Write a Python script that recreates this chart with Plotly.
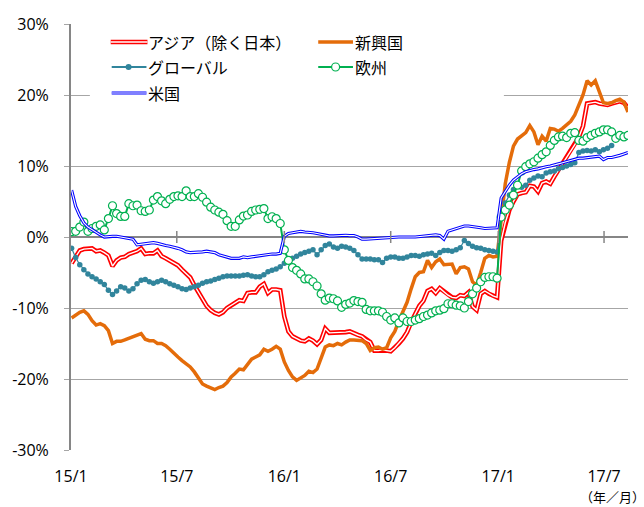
import plotly.graph_objects as go
import pandas as pd

# ---------------- data (weekly, %) ----------------
START = "2015-01-02"
ASIA = [-3.7, -2.8, -1.9, -1.7, -1.6, -1.6, -2.0, -1.9, -2.2, -2.6, -4.1, -3.3, -2.9, -2.8, -2.4, -2.2, -2.0, -1.6,
        -2.4, -2.3, -2.3, -1.9, -2.7, -3.0, -3.3, -3.6, -4.0, -4.6, -5.2, -5.7, -6.8, -7.8, -8.8, -9.7, -10.3,
        -10.7, -10.9, -10.6, -10.0, -9.6, -9.3, -8.9, -9.0, -7.9, -7.8, -7.8, -7.0, -6.6, -7.9, -7.4, -7.4, -7.5,
        -11.2, -13.3, -14.0, -14.3, -14.6, -14.7, -14.3, -14.6, -15.1, -14.5, -12.9, -13.5, -13.5, -13.4, -13.5,
        -13.4, -13.3,
        -13.6, -13.8, -14.0, -14.5, -14.8, -16.0, -16.0, -15.9, -16.0, -16.1, -15.6, -15.0, -14.3, -13.4, -12.0,
        -10.8, -9.7, -9.0, -7.6, -7.3, -7.9, -7.2, -7.7, -8.2, -8.5, -8.6, -8.2, -8.3, -7.8, -9.8, -10.3, -8.0,
        -7.6, -8.0,
        -8.3, -8.5, -0.5, 2.0, 3.8, 5.0, 6.0, 6.2, 6.3, 7.2, 7.1, 6.4, 7.6, 7.8, 7.5, 8.5, 9.4, 10.4, 11.3, 12.2,
        13.0, 14.1, 15.6, 18.8, 18.9, 19.0, 18.8, 18.7, 18.6, 18.8, 19.0, 19.1, 18.9, 18.2]
EMERGING = [-11.4, -11.0, -10.6, -10.4, -10.9, -11.8, -12.4, -12.2, -12.5, -13.2, -15.0, -14.7, -14.7, -14.5, -14.3,
            -14.1, -13.9, -13.6, -14.4, -14.6, -14.6, -15.0, -15.0, -15.3, -15.8, -16.4, -16.9, -17.4, -17.8, -18.3,
            -19.0, -19.8, -20.7, -21.0, -21.2,
            -21.5, -21.2, -21.0, -20.5, -19.7, -19.2, -18.6, -18.7, -18.0, -17.2, -16.9, -16.6, -15.8, -16.1, -15.8,
            -15.4, -15.8, -17.6, -18.8, -19.7, -20.2, -19.9, -19.5, -18.9, -19.1, -18.6, -17.0, -15.5, -15.2, -15.3,
            -15.0, -15.2, -14.8, -14.5,
            -14.5, -14.5, -14.6, -15.0, -16.0, -15.6, -15.5, -15.8, -15.6, -14.2, -13.3, -11.8, -10.5, -9.2, -7.3,
            -5.6, -5.0, -4.9, -3.3, -4.3, -3.5, -3.1, -3.9, -3.8, -3.8, -5.2, -4.3, -4.2, -4.5, -6.3, -6.8, -5.0,
            -3.0, -2.6,
            -2.8, -2.7, 3.0, 7.5, 10.5, 12.8, 13.8, 14.3, 14.7, 15.7, 14.8, 13.0, 14.2, 13.5, 15.3, 15.2, 14.9, 15.3,
            15.8, 16.3, 17.2, 18.6, 20.0, 22.0, 21.4, 22.0, 20.3, 18.9, 18.8, 18.9, 19.2, 19.4, 19.0, 17.6]
GLOBAL = [-1.6, -2.9, -3.9, -4.6, -5.2, -5.6, -5.9, -6.3, -6.7, -7.5, -8.1, -7.6, -7.0, -7.2, -7.6, -7.3, -6.6, -6.1,
          -6.0, -6.3, -6.5, -6.3, -6.1, -6.3, -6.6, -6.8, -7.0, -7.3, -7.4, -7.2, -7.0, -6.8, -6.5, -6.3, -6.2,
          -6.0, -5.8, -5.6, -5.5, -5.5, -5.5, -5.5, -5.4, -5.3, -5.5, -5.6, -5.6, -5.3, -4.9, -4.7, -4.5, -4.2,
          -3.7, -3.3, -3.0, -2.7, -2.4, -2.2, -2.0, -1.8, -2.5, -1.8, -1.2, -1.0, -1.4, -1.6, -1.3, -1.4, -1.6,
          -1.9, -2.5, -3.1, -3.1, -3.1, -3.2, -3.2, -3.6, -3.0, -2.8, -2.8, -3.0, -3.0, -2.8, -2.6, -2.6, -2.7,
          -2.5, -2.4, -2.3, -2.6, -2.2, -1.9, -1.9, -2.0, -1.8, -1.5, -0.5, -0.9, -1.3, -1.5, -1.6, -1.8, -1.9,
          -2.0, -2.1, 3.0, 4.8, 5.9, 6.7, 7.2, 7.0, 7.3, 8.0, 8.3, 8.6, 8.5, 9.0, 9.2, 9.3, 9.6, 9.8, 10.0, 10.2,
          10.45, 11.9, 12.1, 12.2, 12.1, 12.3, 12.0, 12.3, 12.5, 12.9]
EUROPE = [0.75, 0.8, 1.4, 2.1, 0.8, 1.2, 1.5, 1.7, 1.0, 2.6, 4.4, 3.3, 2.9, 2.9, 4.7, 4.4, 4.5, 3.7, 3.6, 3.8, 5.2,
          5.7, 5.1, 4.7, 5.3, 5.7, 5.8, 5.7, 6.5, 5.7, 5.7, 6.1, 5.6, 4.9, 4.2,
          3.8, 3.5, 3.2, 2.3, 1.5, 1.5, 2.4, 2.95, 3.1, 3.6, 3.8, 3.9, 4.0, 2.6, 2.85, 2.6, 1.9, -1.8, -3.3, -4.3,
          -4.7, -5.2, -5.9, -5.9, -6.3, -6.9, -8.0, -8.9, -8.6, -8.7, -9.0, -9.9, -9.5, -9.3,
          -8.95, -9.1, -9.2, -10.2, -10.4, -10.4, -10.4, -10.6, -11.2, -11.7, -11.4, -12.1, -11.4, -11.9, -11.9,
          -11.7, -11.5, -11.2, -11.0, -10.7, -10.4, -10.3, -10.1, -9.4, -9.4, -9.6, -9.7, -10.0, -9.1, -8.0, -7.2,
          -6.3, -5.7, -5.6,
          -5.6, -5.8, 2.8, 3.8, 4.5, 5.9, 7.3, 9.3, 9.9, 10.3, 10.6, 11.1, 11.6, 12.0, 12.9, 13.6, 14.1, 14.2, 14.0,
          14.6, 14.7, 13.6, 13.5, 14.0, 14.3, 14.6, 14.8, 15.1, 15.1, 14.8, 13.9, 14.3, 14.1, 14.3]
US = [6.6, 4.3, 3.0, 2.0, 1.4, 1.0, 0.6, 0.3, 0.0, 0.1, 0.1, 0.1, 0.0, -0.1, -0.2, -0.3, -1.1, -1.0, -0.9, -0.9,
      -0.8, -0.9, -1.1, -1.2, -1.3, -1.4, -1.6, -1.8, -2.1, -2.2, -2.2, -2.1, -2.1, -2.0, -2.1,
      -2.2, -2.5, -2.7, -2.9, -3.0, -3.0, -3.0, -2.8, -2.9, -2.8, -2.7, -2.6, -2.5, -2.5, -2.4, -2.4, -2.3,
      0.1, 0.5, 0.6, 0.7, 0.8, 0.7, 0.7, 0.6, 0.5, 0.4, 0.2, 0.15, 0.15, 0.2, 0.3, 0.25, 0.2,
      0.2, 0.0, -0.3, -0.3, -0.25, -0.2, -0.2, -0.15, -0.1, -0.05, -0.05, 0.0, 0.0, -0.05, 0.0, 0.0, 0.05, 0.1,
      0.2, 0.3, 0.3, 0.2, -0.3, 0.8, 1.0, 1.2, 1.4, 1.55, 1.55, 1.5, 1.45, 1.3, 1.2, 1.2,
      1.2, 1.3, 5.5, 6.5, 7.3, 8.0, 8.5, 8.9, 9.2, 9.4, 9.5, 9.6, 9.8, 9.9, 10.0, 10.1, 10.3, 10.45, 10.6, 10.7,
      10.9, 11.1, 11.1, 11.2, 11.2, 11.3, 11.4, 10.9, 11.2, 11.2, 11.3, 11.5, 11.7, 11.9]

NAMES = ["アジア（除く日本）", "新興国", "グローバル", "欧州", "米国"]
TICK_VALS = ["2015-01-01", "2015-07-01", "2016-01-01", "2016-07-01", "2017-01-01", "2017-07-01"]
TICK_TEXT = ["15/1", "15/7", "16/1", "16/7", "17/1", "17/7"]
Y_TICKS = [-30, -20, -10, 0, 10, 20, 30]
X_RANGE = ["2015-01-01", "2017-08-11"]
UNIT_LABEL = "（年／月）"

DATES = pd.date_range(START, periods=len(ASIA), freq="7D")

RED = "#FF0000"
ORANGE = "#E46C0A"
TEAL = "#31859C"
GREEN = "#00B050"
BLUE = "#0000FF"
FONT = "Noto Sans CJK JP"
TICK_FONT = "Open Sans"

fig = go.Figure()
# アジア (double line)
fig.add_trace(go.Scatter(x=DATES, y=ASIA, mode="lines", line=dict(color=RED, width=4.6), name=NAMES[0]))
fig.add_trace(go.Scatter(x=DATES, y=ASIA, mode="lines", line=dict(color="white", width=1.4), hoverinfo="skip"))
# 新興国
fig.add_trace(go.Scatter(x=DATES, y=EMERGING, mode="lines", line=dict(color=ORANGE, width=3.5), name=NAMES[1]))
# グローバル
fig.add_trace(go.Scatter(x=DATES[:len(GLOBAL)], y=GLOBAL, mode="lines+markers",
                         line=dict(color=TEAL, width=1.2),
                         marker=dict(color=TEAL, size=5.5, line=dict(width=0)), name=NAMES[2]))
# 欧州
fig.add_trace(go.Scatter(x=DATES, y=EUROPE, mode="lines+markers",
                         line=dict(color=GREEN, width=2),
                         marker=dict(color="white", size=8, line=dict(color=GREEN, width=1.2)), name=NAMES[3]))
# 米国 (double line)
fig.add_trace(go.Scatter(x=DATES, y=US, mode="lines", line=dict(color=BLUE, width=3.2), name=NAMES[4]))
fig.add_trace(go.Scatter(x=DATES, y=US, mode="lines", line=dict(color="white", width=1.1), hoverinfo="skip"))

L, R, T, B = 67, 16, 24, 57
W, H = 644, 507
PW, PH = W - L - R, H - T - B


def px(xp):
    return (xp - L) / PW


def py(yp):
    return 1 - (yp - T) / PH


shapes = []
# tick marks crossing the zero line
for d in TICK_VALS[1:]:
    shapes.append(dict(type="line", xref="x", yref="y", x0=d, x1=d, ysizemode="pixel", yanchor=0,
                       y0=-6, y1=6, line=dict(color="#868686", width=1.5)))
# legend background
shapes.append(dict(type="rect", xref="paper", yref="paper", x0=px(86), x1=px(503), y0=py(108), y1=py(30),
                   fillcolor="white", line=dict(width=0), layer="above"))


def hline(x0, x1, y, color, width):
    shapes.append(dict(type="line", xref="paper", yref="paper", x0=px(x0), x1=px(x1), y0=py(y), y1=py(y),
                       line=dict(color=color, width=width), layer="above"))


def circle(xc, yc, r, fill, color, lw):
    shapes.append(dict(type="circle", xref="paper", yref="paper", xsizemode="pixel", ysizemode="pixel",
                       xanchor=px(xc), yanchor=py(yc), x0=-r, x1=r, y0=-r, y1=r,
                       fillcolor=fill, line=dict(color=color, width=lw), layer="above"))


hline(107, 144, 42, RED, 4.6)
hline(107, 144, 42, "white", 1.4)
hline(316, 351, 42, ORANGE, 3.5)
hline(108, 143, 67, TEAL, 2)
circle(125, 67, 3, TEAL, TEAL, 0)
hline(316, 351, 67, GREEN, 2)
circle(333.5, 67, 4, "white", GREEN, 1.2)
hline(108, 143, 93, BLUE, 3.2)
hline(108, 143, 93, "white", 1.1)

annotations = []
for name, xx, yy in [(NAMES[0], 143, 42), (NAMES[1], 351, 42), (NAMES[2], 143, 67),
                     (NAMES[3], 351, 67), (NAMES[4], 143, 93)]:
    annotations.append(dict(text=name, xref="paper", yref="paper", x=px(xx), y=py(yy), xanchor="left",
                            yanchor="middle", showarrow=False, font=dict(family=FONT, size=16, color="black")))
annotations.append(dict(text=UNIT_LABEL, xref="paper", yref="paper", x=px(647), y=py(497), xanchor="right",
                        yanchor="middle", showarrow=False, font=dict(family=FONT, size=13, color="black")))

fig.update_layout(
    width=W, height=H, margin=dict(l=L, r=R, t=T, b=B),
    paper_bgcolor="white", plot_bgcolor="white", showlegend=False,
    shapes=shapes, annotations=annotations,
    xaxis=dict(type="date", range=X_RANGE, tickvals=TICK_VALS, ticktext=TICK_TEXT, showgrid=False,
               showline=False, zeroline=False, ticks="outside", ticklen=12, tickcolor="rgba(0,0,0,0)",
               tickfont=dict(family=TICK_FONT, size=16, color="black")),
    yaxis=dict(range=[-30, 30], tickvals=Y_TICKS, ticktext=[f"{v}%" for v in Y_TICKS], showgrid=True,
               gridcolor="#A6A6A6", gridwidth=1.3, zeroline=True, zerolinecolor="#868686", zerolinewidth=2,
               showline=True, linecolor="#868686", linewidth=2, ticks="outside", ticklen=5,
               tickcolor="#A6A6A6", tickwidth=1.3, ticklabelstandoff=12,
               tickfont=dict(family=TICK_FONT, size=16, color="black")),
)

fig.write_html("out.html", config={"displayModeBar": False},
               post_script="document.body.style.margin='0';document.body.style.overflow='hidden';")
